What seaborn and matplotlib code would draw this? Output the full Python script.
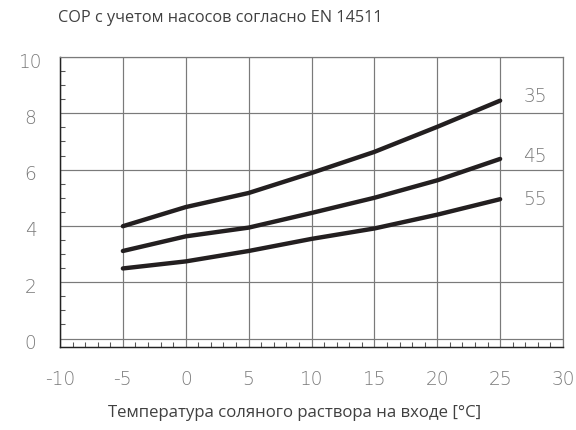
import matplotlib
matplotlib.use("Agg")
import matplotlib.pyplot as plt
from matplotlib.ticker import MultipleLocator
from matplotlib.transforms import ScaledTranslation
import numpy as np
import pandas as pd
import seaborn as sns

# Data
temps = [-5, 0, 5, 10, 15, 20, 25]
cop_35 = [3.99, 4.67, 5.17, 5.88, 6.63, 7.52, 8.45]
cop_45 = [3.11, 3.63, 3.94, 4.46, 5.00, 5.62, 6.38]
cop_55 = [2.49, 2.74, 3.11, 3.54, 3.91, 4.40, 4.95]
series_names = ["35", "45", "55"]
x_ticks = [-10, -5, 0, 5, 10, 15, 20, 25, 30]
y_ticks = [0, 2, 4, 6, 8, 10]
title = "COP с учетом насосов согласно EN 14511"
xlabel = "Температура соляного раствора на входе [°C]"

df = pd.DataFrame({
    "t": temps * 3,
    "cop": cop_35 + cop_45 + cop_55,
    "series": [s for s in series_names for _ in temps],
})

sns.set_theme(style="white")
plt.rcParams["font.family"] = ["Open Sans", "DejaVu Sans"]

fig = plt.figure(figsize=(6.0, 430 / 96), dpi=96)
ax = fig.add_axes([60 / 576, 1 - 347 / 430, (563 - 60) / 576, (347 - 57) / 430])

sns.lineplot(data=df, x="t", y="cop", hue="series",
             palette=["#231f20"] * 3, linewidth=3.3, legend=False, ax=ax,
             solid_capstyle="round", solid_joinstyle="round")

ax.set_xlim(-10, 30)
ax.set_ylim(-0.3, 10)
ax.set_xticks(x_ticks)
ax.set_yticks(y_ticks)
ax.xaxis.set_minor_locator(MultipleLocator(1))
ax.yaxis.set_minor_locator(MultipleLocator(0.5))
ax.grid(True, which="major", color="#7a7a7a", linewidth=0.9)
ax.set_axisbelow(True)

for side in ["top", "right"]:
    ax.spines[side].set_color("#7a7a7a")
    ax.spines[side].set_linewidth(0.9)
for side in ["left", "bottom"]:
    ax.spines[side].set_color("#222222")
    ax.spines[side].set_linewidth(1.1)

tick_color = "#7a7a7a"
tick_font = dict(family=["DejaVu Sans"], weight="light", size=14)
ax.tick_params(axis="both", which="major", length=0, colors=tick_color)
ax.tick_params(axis="x", which="major", pad=17)
ax.tick_params(axis="y", which="major", pad=22)
ax.tick_params(axis="both", which="minor", direction="in", length=4,
               width=0.8, color="#555555")
ax.tick_params(axis="y", which="minor", left=True)
ax.tick_params(axis="x", which="minor", bottom=True)
ax.set_xticklabels([str(v) for v in x_ticks], fontdict=tick_font, color=tick_color)
ax.set_yticklabels([str(v) for v in y_ticks], fontdict=tick_font, color=tick_color)
shift = ScaledTranslation(0, -3 / 96, fig.dpi_scale_trans)
for lab in ax.get_yticklabels():
    lab.set_horizontalalignment("center")
    lab.set_transform(lab.get_transform() + shift)
ax.set_xlabel("")
ax.set_ylabel("")

# series labels at line ends
ends = [cop_35[-1], cop_45[-1], cop_55[-1]]
offsets = [0.15, 0.1, 0.0]
for name, yv, off in zip(series_names, ends, offsets):
    ax.text(27.8, yv + off, name, ha="center", va="center",
            fontdict=tick_font, color=tick_color)

fig.text(58 / 576, 1 - 18 / 430, title, ha="left", va="center",
         fontsize=12.2, color="#404040")
fig.text(295 / 576, 1 - 413 / 430, xlabel, ha="center", va="center",
         fontsize=12.6, color="#404040")

fig.savefig("out.png", dpi=96)
